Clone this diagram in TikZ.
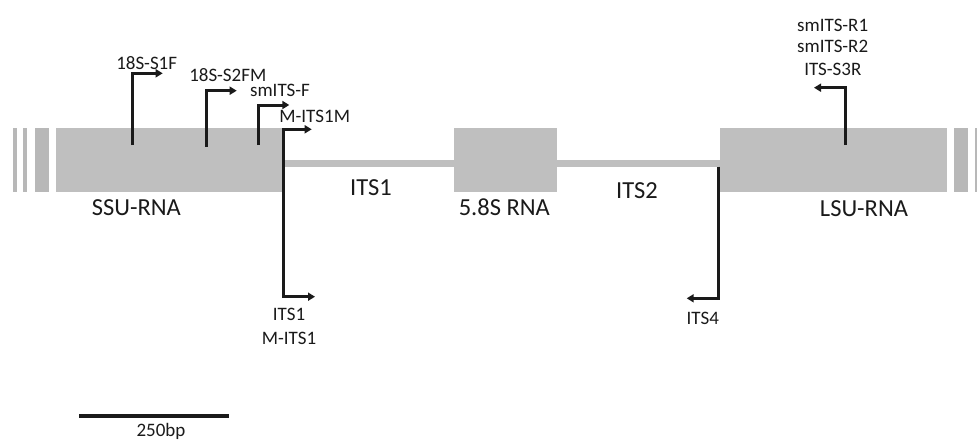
\documentclass[tikz,border=0pt]{standalone}
\usepackage{fontspec}
\setmainfont{Carlito}
\usetikzlibrary{arrows.meta}
\definecolor{rnagray}{RGB}{191,191,191}
\definecolor{bargray}{RGB}{184,184,184}
\definecolor{ink}{RGB}{26,26,26}
\begin{document}
\begin{tikzpicture}[x=1pt,y=-1pt,
  gene/.style={fill=rnagray, draw=none, inner sep=0pt, outer sep=0pt, minimum height=64pt, anchor=north west},
  cut/.style={fill=bargray, draw=none},
  spacer/.style={draw=rnagray, line width=7pt},
  primer/.style={draw=ink, line width=3pt, line join=miter, -{Triangle[length=7pt,width=8pt]}},
  big/.style={font=\fontsize{24.5}{29}\selectfont, text=ink, inner sep=0pt},
  small/.style={font=\fontsize{19}{23}\selectfont, text=ink, inner sep=0pt, anchor=base}]
\useasboundingbox (0,0) rectangle (977,442);

% broken ends
\fill[cut] (12.7,128) rectangle (17,192);
\fill[cut] (22.7,128) rectangle (27,192);
\fill[cut] (35,128) rectangle (49,192);
\fill[cut] (954,128) rectangle (968,192);
\fill[cut] (975,128) rectangle (981,192);

% genes
\node[gene, minimum width=226.7pt] (ssu) at (56,128) {};
\node[gene, minimum width=103pt] (s58) at (454,128) {};
\node[gene, minimum width=227pt] (lsu) at (720,128) {};

% spacers
\draw[spacer] ([yshift=-3pt]ssu.east) -- ([yshift=-3pt]s58.west);
\draw[spacer] ([yshift=-3pt]s58.east) -- ([yshift=-3pt]lsu.west);

% gene labels
\node[big, anchor=base west] (lssu) at (91.7,215) {SSU-RNA};
\node[big, anchor=base] (lits1) at (371,195) {ITS1};
\node[big, anchor=base] (l58) at (504.3,215) {5.8S RNA};
\node[big, anchor=base] (lits2) at (637,198.3) {ITS2};
\node[big, anchor=base] (llsu) at (864,216.7) {LSU-RNA};

% primer sites
\coordinate (b1) at (132.7,145);
\coordinate (b2) at (206,146.7);
\coordinate (b3) at (258.3,145);
\coordinate (b4) at (283.3,162);
\coordinate (b5) at (718.3,166.7);
\coordinate (b6) at (845.7,145);

\draw[primer] (b1) |- +(30,-71.7);
\draw[primer] (b2) |- +(30.7,-56);
\draw[primer] (b3) |- +(31,-40);
\draw[primer] (b4) |- +(28.4,-32.7);
\draw[primer] (b4) |- +(31.7,134.7);
\draw[primer] (b5) |- +(-31.6,131.6);
\draw[primer] (b6) |- +(-31.7,-57.3);

% primer labels
\node[small] (t1) at (146.7,69.3) {18S-S1F};
\node[small] (t2) at (227.8,81.7) {18S-S2FM};
\node[small] (t3) at (280,96.7) {smITS-F};
\node[small] (t4) at (314.7,122.3) {M-ITS1M};
\node[small] (t5) at (289,320) {ITS1};
\node[small] (t6) at (289,344.3) {M-ITS1};
\node[small] (t7) at (702.8,324.3) {ITS4};
\node[small] (t8) at (832.7,31.7) {smITS-R1};
\node[small] (t9) at (832.7,52.5) {smITS-R2};
\node[small] (t10) at (832.8,75) {ITS-S3R};

% scale bar
\coordinate (sa) at (79,415.7);
\coordinate (sb) at (229,415.7);
\draw[draw=ink, line width=4pt] (sa) -- (sb);
\node[small] (tscale) at (161,436.5) {250bp};
\end{tikzpicture}
\end{document}
